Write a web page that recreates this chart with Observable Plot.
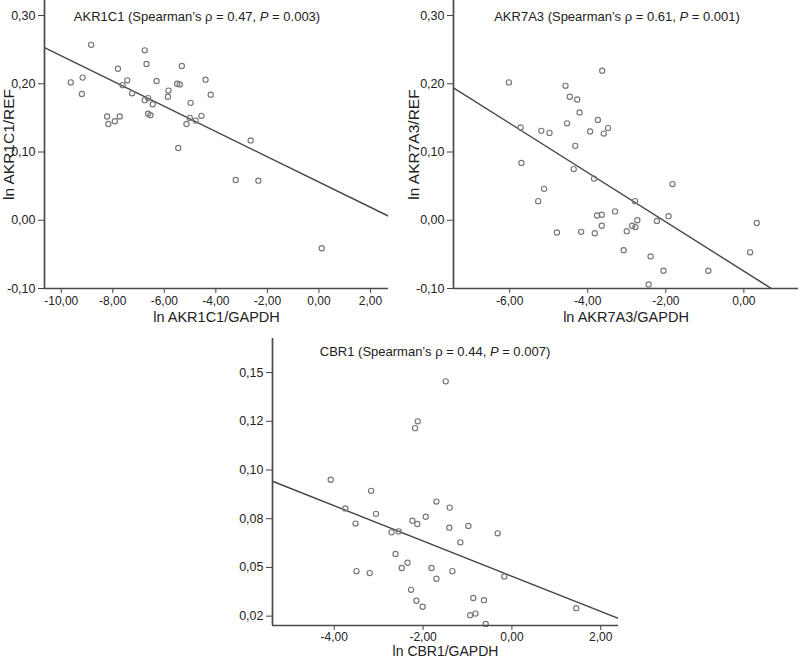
<!DOCTYPE html>
<html><head><meta charset="utf-8">
<script src="https://cdn.jsdelivr.net/npm/d3@7"></script>
<script src="https://cdn.jsdelivr.net/npm/@observablehq/plot@0.6"></script>
<style>
body{margin:0;background:#fff;}
#wrap{position:relative;width:800px;height:658px;overflow:hidden;font-family:"Liberation Sans",Arial,sans-serif;background:#fff;}
.panel{position:absolute;}
.title{position:absolute;font-size:13px;line-height:13px;white-space:nowrap;transform:translateX(-50%);color:#222;}
</style></head><body><div id="wrap"></div>
<script>
// ---- AKR1C1 ----
const akr1c1X = [-8.84,-9.63,-9.17,-9.20,-7.80,-7.44,-7.62,-7.25,-8.22,-8.17,-7.92,-7.73,-6.76,-6.69,-6.30,-6.76,-6.63,-6.45,-6.63,-6.54,-5.32,-5.50,-5.40,-5.84,-5.86,-4.98,-4.40,-4.20,-5.01,-5.14,-4.78,-4.56,-5.46,-2.65,-3.23,-2.35,0.11];
const akr1c1Y = [0.257,0.202,0.209,0.185,0.222,0.205,0.198,0.186,0.152,0.141,0.145,0.152,0.249,0.229,0.204,0.176,0.179,0.170,0.156,0.154,0.226,0.200,0.199,0.190,0.181,0.172,0.206,0.184,0.150,0.141,0.146,0.153,0.106,0.117,0.059,0.058,-0.041];
const akr1c1Fit = {intercept: 0.056, slope: -0.0185};
// ---- AKR7A3 ----
const akr7a3X = [-6.02,-5.72,-5.70,-5.19,-4.98,-5.12,-5.27,-4.79,-4.57,-4.46,-4.27,-4.21,-4.53,-3.94,-4.32,-4.36,-3.63,-3.74,-3.48,-3.59,-3.84,-3.76,-3.64,-3.30,-4.17,-3.82,-3.64,-3.08,-3.00,-2.86,-2.78,-2.73,-2.79,-2.23,-1.93,-1.83,-2.39,-2.06,-2.44,-0.91,0.16,0.33];
const akr7a3Y = [0.202,0.136,0.084,0.131,0.128,0.046,0.028,-0.018,0.197,0.181,0.177,0.158,0.142,0.130,0.109,0.075,0.219,0.147,0.135,0.127,0.061,0.007,0.008,0.013,-0.017,-0.019,-0.008,-0.044,-0.016,-0.008,-0.010,0.000,0.028,-0.001,0.006,0.053,-0.053,-0.074,-0.094,-0.074,-0.047,-0.004];
const akr7a3Fit = {intercept: -0.0746, slope: -0.0361};
// ---- CBR1 ----
const cbr1X = [-1.49,-2.12,-2.18,-4.08,-3.17,-3.75,-3.06,-3.52,-2.71,-2.55,-2.24,-2.13,-1.94,-1.70,-1.40,-1.41,-0.98,-0.32,-1.16,-2.62,-2.35,-2.48,-3.50,-3.20,-1.81,-1.70,-1.34,-0.17,-2.27,-2.15,-2.01,-0.87,-0.63,-0.94,-0.82,-0.59,1.45];
const cbr1Y = [0.1455,0.125,0.1215,0.095,0.0893,0.0803,0.0775,0.0725,0.068,0.0685,0.074,0.0723,0.076,0.0838,0.0807,0.0704,0.0713,0.0675,0.0629,0.0569,0.0524,0.0497,0.0481,0.0471,0.0497,0.0442,0.0481,0.0454,0.0385,0.0329,0.0298,0.0343,0.0332,0.0255,0.0263,0.0210,0.0291];
const cbr1Fit = {intercept: 0.0455, slope: -0.00904};

// ---- ticks ----
const akr1c1XTicks = [-10,-8,-6,-4,-2,0,2];
const akr7a3XTicks = [-6,-4,-2,0];
const cbr1XTicks = [-4,-2,0,2];
const refYTicks = [-0.1,0,0.1,0.2,0.3];
const cbr1YTicks = [0.025,0.05,0.075,0.1,0.125,0.15];
const cbr1YTickLabels = ["0,02","0,05","0,08","0,10","0,12","0,15"];

const fmt = d => d.toFixed(2).replace(".", ",");
const wrap = document.getElementById("wrap");

function panel(o) {
  const rows = o.xs.map((x, i) => ({x, y: o.ys[i]}));
  const lineData = o.xDomain.map(x => ({x, y: o.fit.intercept + o.fit.slope * x}));
  const yFmt = o.yLabels ? (d => o.yLabels[o.yTicks.indexOf(d)]) : fmt;
  const marks = [
    Plot.line(lineData, {x: "x", y: "y", stroke: "#454545", strokeWidth: 1.4, clip: true}),
    Plot.dot(rows, {x: "x", y: "y", r: 2.6, stroke: "#777", strokeWidth: 1.15, fill: "none"}),
    Plot.axisX({ticks: o.xTicks, tickFormat: fmt, tickSize: 5, tickPadding: o.xPad, fontSize: 12, label: null, stroke: "#444"}),
    Plot.axisY({ticks: o.yTicks, tickFormat: yFmt, tickSize: 6, tickPadding: 3, fontSize: 12.5, label: null, stroke: "#444"}),
    Plot.ruleX([o.xDomain[0]], {stroke: "#4a4a4a", strokeWidth: 1.7}),
    Plot.ruleY([o.yDomain[0]], {stroke: "#4a4a4a", strokeWidth: 1.7}),
    Plot.text([o.xLabel], {text: d => d, frameAnchor: "bottom", textAnchor: "middle", lineAnchor: "bottom", dy: o.xLabelDy, fontSize: o.xLabelSize, fill: "#222"})
  ];
  if (o.yLabel) marks.push(Plot.text([o.yLabel], {text: d => d, frameAnchor: "left", textAnchor: "middle", lineAnchor: "bottom", rotate: -90, dx: o.yLabelDx, fontSize: 15.5, fill: "#222"}));
  const svg = Plot.plot({
    width: o.width, height: o.height,
    marginLeft: o.mL, marginRight: o.mR, marginTop: o.mT, marginBottom: o.mB,
    x: {domain: o.xDomain},
    y: {domain: o.yDomain},
    style: {fontFamily: '"Liberation Sans", Arial, sans-serif', fontSize: "12px", color: "#222", background: "transparent", overflow: "visible"},
    marks
  });
  const div = document.createElement("div");
  div.className = "panel";
  div.style.left = o.left + "px";
  div.style.top = o.top + "px";
  div.appendChild(svg);
  wrap.appendChild(div);
  const t = document.createElement("div");
  t.className = "title";
  t.style.left = o.titleX + "px";
  t.style.top = o.titleY + "px";
  t.innerHTML = o.title;
  wrap.appendChild(t);
}

panel({left: 0, top: 0, width: 400, height: 330, mL: 44, mR: 12, mT: 0, mB: 42,
  xDomain: [-10.65, 2.70], yDomain: [-0.10, 0.322], xTicks: akr1c1XTicks, yTicks: refYTicks,
  xs: akr1c1X, ys: akr1c1Y, fit: akr1c1Fit, xPad: 3,
  xLabel: "ln AKR1C1/GAPDH", xLabelDy: 33, xLabelSize: 14.5, yLabel: "ln AKR1C1/REF", yLabelDx: -30.5,
  title: "AKR1C1 (Spearman\u2019s \u03c1 = 0.47, <i>P</i> = 0.003)", titleX: 197, titleY: 10});

panel({left: 400, top: 0, width: 400, height: 330, mL: 53, mR: 2, mT: 0, mB: 42,
  xDomain: [-7.44, 1.40], yDomain: [-0.10, 0.322], xTicks: akr7a3XTicks, yTicks: refYTicks,
  xs: akr7a3X, ys: akr7a3Y, fit: akr7a3Fit, xPad: 3,
  xLabel: "ln AKR7A3/GAPDH", xLabelDy: 33, xLabelSize: 14.5, yLabel: "ln AKR7A3/REF", yLabelDx: -35,
  title: "AKR7A3 (Spearman\u2019s \u03c1 = 0.61, <i>P</i> = 0.001)", titleX: 617, titleY: 10});

panel({left: 200, top: 320, width: 430, height: 338, mL: 72, mR: 12, mT: 18, mB: 33,
  xDomain: [-5.39, 2.40], yDomain: [0.0202, 0.1675], xTicks: cbr1XTicks, yTicks: cbr1YTicks, yLabels: cbr1YTickLabels,
  xs: cbr1X, ys: cbr1Y, fit: cbr1Fit, xPad: 2,
  xLabel: "ln CBR1/GAPDH", xLabelDy: 30.5, xLabelSize: 14, yLabel: null,
  title: "CBR1 (Spearman\u2019s \u03c1 = 0.44, <i>P</i> = 0.007)", titleX: 435, titleY: 345});
</script></body></html>
